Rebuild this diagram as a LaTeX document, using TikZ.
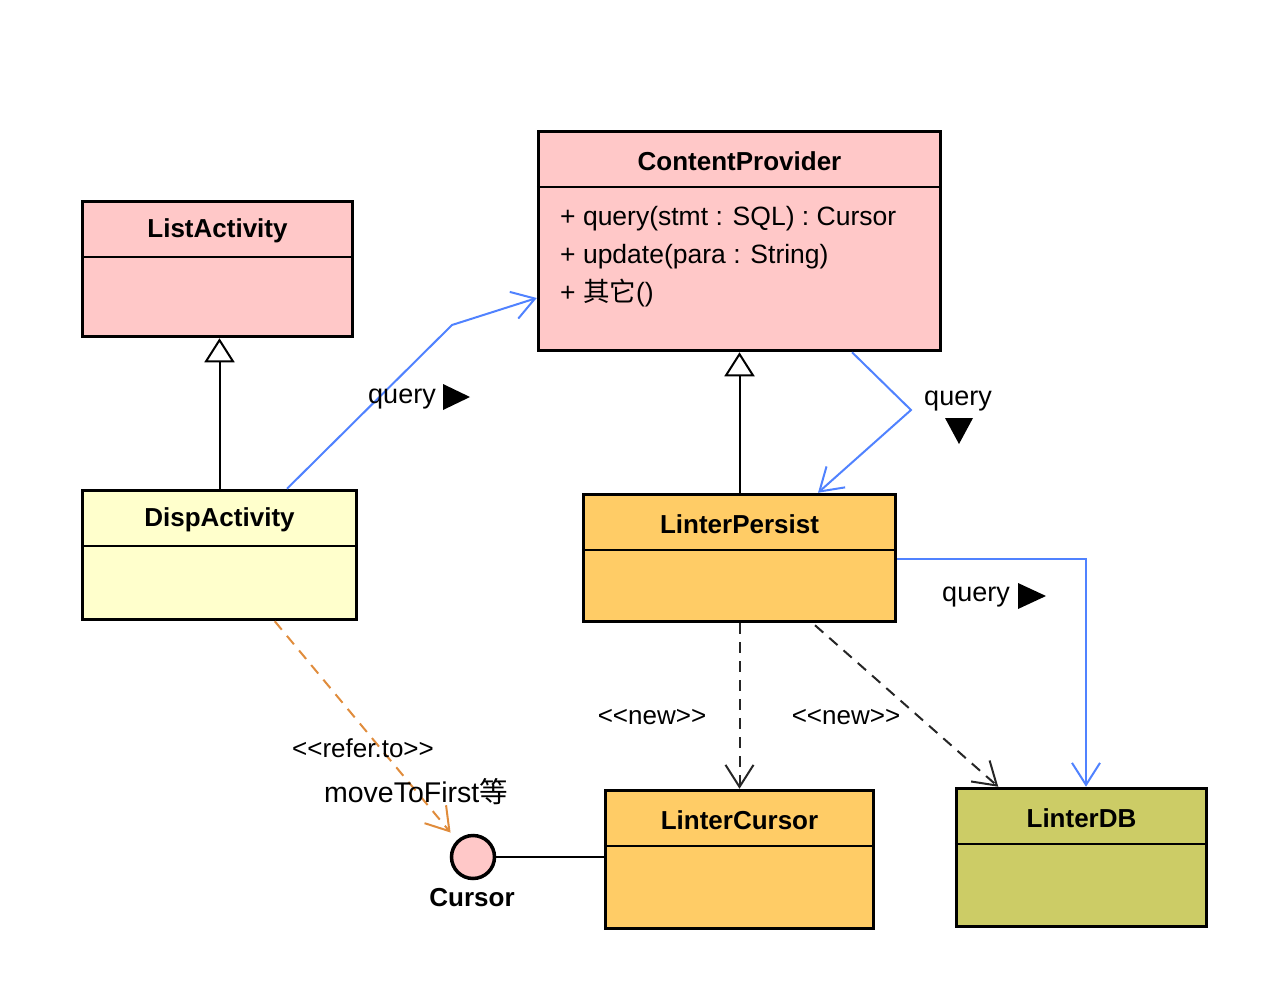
\documentclass[tikz,border=0pt]{standalone}
\usepackage{fontspec}
\setmainfont{Liberation Sans}
\newfontfamily\cjk{Noto Sans CJK SC}
\usetikzlibrary{arrows.meta,calc}
\definecolor{cppink}{RGB}{255,200,200}
\definecolor{lightyel}{RGB}{255,255,204}
\definecolor{orangebox}{RGB}{255,204,102}
\definecolor{olivebox}{RGB}{204,204,102}
\definecolor{qblue}{RGB}{80,130,255}
\definecolor{refor}{RGB}{224,140,60}
\tikzset{
  umlbox/.style={draw=black, line width=3.5pt, rectangle, inner sep=0pt},
  sepline/.style={draw=black, line width=1.6pt},
  title/.style={font=\fontsize{26}{28}\selectfont\bfseries, inner sep=0pt},
  meth/.style={font=\fontsize{26.5}{28}\selectfont, inner sep=0pt, anchor=west, text height=19pt, text depth=5pt},
  lbl/.style={font=\fontsize{27}{30}\selectfont, inner sep=0pt},
  stereo/.style={font=\fontsize{26}{28}\selectfont, inner sep=0pt},
  gen/.style={draw=black, line width=2pt, -{Triangle[open, length=24pt, width=30pt, fill=white]}},
  assoc/.style={draw=qblue, line width=2pt, -{Straight Barb[length=22pt, width=28pt]}},
  newdep/.style={draw=black!85, line width=2pt, dash pattern=on 11pt off 8pt, -{Straight Barb[length=22pt, width=28pt]}},
  refdep/.style={draw=refor, line width=2pt, dash pattern=on 11pt off 8pt, -{Straight Barb[length=22pt, width=28pt]}},
  dirtri/.style={fill=black}
}
\begin{document}
\begin{tikzpicture}[x=1pt, y=-1pt]
\useasboundingbox (0,0) rectangle (1280,998);

% class boxes
\node[umlbox, fill=cppink, minimum width=270pt, minimum height=135pt] (la) at (217.5,269) {};
\node[umlbox, fill=cppink, minimum width=402pt, minimum height=219pt] (cp) at (739.5,241) {};
\node[umlbox, fill=lightyel, minimum width=274pt, minimum height=129pt] (disp) at (219.5,555) {};
\node[umlbox, fill=orangebox, minimum width=312pt, minimum height=127pt] (lp) at (739.5,558) {};
\node[umlbox, fill=orangebox, minimum width=268pt, minimum height=138pt] (lc) at (739.5,859.5) {};
\node[umlbox, fill=olivebox, minimum width=250pt, minimum height=138pt] (ldb) at (1081.5,857.5) {};

% separators
\foreach \b in {la,cp,disp,lp,lc,ldb}{
  \draw[sepline] ($(\b.north west)+(0,57)$) -- ($(\b.north east)+(0,57)$);
}

% titles
\node[title] (tla) at ($(la.north)+(0,31)$) {ListActivity};
\node[title] (tcp) at ($(cp.north)+(0,31)$) {ContentProvider};
\node[title] (tdisp) at ($(disp.north)+(0,31)$) {DispActivity};
\node[title] (tlp) at ($(lp.north)+(0,31)$) {LinterPersist};
\node[title] (tlc) at ($(lc.north)+(0,31)$) {LinterCursor};
\node[title] (tldb) at ($(ldb.north)+(0,31)$) {LinterDB};

% methods
\node[meth] (m1) at (560,218) {+ query(stmt : SQL) : Cursor};
\node[meth] (m2) at (560,256) {+ update(para : String)};
\node[meth] (m3) at (560,294) {+ {\cjk 其它}()};

% Cursor interface
\node[circle, draw=black, line width=3.5pt, fill=cppink, minimum size=43pt, inner sep=0pt] (cur) at (473,857) {};
\node[title] (curl) at (472,898) {Cursor};
\draw[black, line width=2pt] (cur.east) -- (lc.west |- cur.east);

% generalizations
\draw[gen] (disp.north) -- (disp.north |- la.south);
\draw[gen] (lp.north) -- (lp.north |- cp.south);

% associations (blue)
\coordinate (b1) at (452,325);
\draw[assoc] ($(disp.north)+(67.5,0)$) -- (b1) -- ($(cp.west)+(0,57)$);
\coordinate (b2) at (911,410);
\draw[assoc] ($(cp.south)+(112.5,0)$) -- (b2) -- ($(lp.north)+(78.5,0)$);
\draw[assoc] ($(lp.east)+(0,1)$) -| ($(ldb.north)+(4.5,0)$);

% dependencies
\draw[newdep] (lp.south) -- (lc.north);
\draw[newdep] ($(lp.south)+(75.5,2)$) -- ($(ldb.north west)+(43.5,0)$);
\draw[refdep] ($(disp.south west)+(194,0)$) -- ($(cur.north west)+(-6,-8)$);

% labels
\node[lbl] (q1) at (402,399) {query};
\fill[dirtri] (443,384) -- (470,397) -- (443,410) -- cycle;
\node[lbl] (q2) at (958,401) {query};
\fill[dirtri] (945,418) -- (973,418) -- (959,444) -- cycle;
\node[lbl] (q3) at (976,597) {query};
\fill[dirtri] (1018,583) -- (1046,596) -- (1018,609) -- cycle;

\node[stereo] (s1) at (652,717) {<{}<new>{}>};
\node[stereo] (s2) at (846,717) {<{}<new>{}>};
\node[stereo] (s3) at (363,748) {<{}<refer.to>{}>};
\node[font=\fontsize{28.5}{32}\selectfont, inner sep=0pt] (mtf) at (416,792) {moveToFirst{\cjk 等}};
\end{tikzpicture}
\end{document}
